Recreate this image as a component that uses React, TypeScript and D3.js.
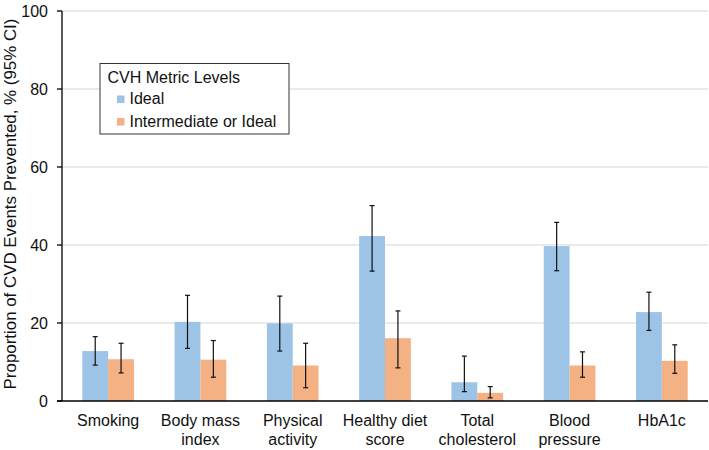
import React from 'react';
import * as d3 from 'd3';

const categories = [
  ['Smoking'],
  ['Body mass', 'index'],
  ['Physical', 'activity'],
  ['Healthy diet', 'score'],
  ['Total', 'cholesterol'],
  ['Blood', 'pressure'],
  ['HbA1c'],
];
const seriesNames = ['Ideal', 'Intermediate or Ideal'];
const idealVal = [12.8, 20.3, 19.9, 42.3, 4.8, 39.7, 22.8];
const idealLo = [9.2, 13.5, 12.8, 33.3, 2.4, 33.4, 18.1];
const idealHi = [16.5, 27.1, 26.9, 50.1, 11.5, 45.8, 27.9];
const interVal = [10.7, 10.6, 9.1, 16.1, 2.1, 9.1, 10.3];
const interLo = [7.2, 6.1, 3.4, 8.5, 0.8, 6.1, 7.1];
const interHi = [14.8, 15.5, 14.8, 23.1, 3.7, 12.6, 14.4];
const yTicks = [0, 20, 40, 60, 80, 100];

const colors = ['#9dc3e6', '#f4b183'];
const font = 'Arial, "Liberation Sans", sans-serif';

const W = 709;
const H = 450;
const margin = { top: 11, right: 1, bottom: 49, left: 62 };

export default function App() {
  const x = d3
    .scaleBand<number>()
    .domain(categories.map((_, i) => i))
    .range([margin.left, W - margin.right])
    .paddingInner(0.44)
    .paddingOuter(0.22);
  const y = d3.scaleLinear().domain([0, 100]).range([H - margin.bottom, margin.top]);
  const sub = d3.scaleBand<number>().domain([0, 1]).range([0, x.bandwidth()]);

  const series = [
    { vals: idealVal, lo: idealLo, hi: idealHi },
    { vals: interVal, lo: interLo, hi: interHi },
  ];

  return (
    <div style={{ position: 'absolute', left: 0, top: 0 }}>
      <svg width={W} height={H} style={{ display: 'block', fontFamily: font }}>
        <rect width={W} height={H} fill="#fff" />
        {yTicks.slice(1).map((t) => (
          <line key={t} x1={margin.left} x2={W - margin.right} y1={y(t)} y2={y(t)} stroke="#e3e3e3" strokeWidth={1.3} />
        ))}
        {series.map((s, si) =>
          s.vals.map((v, i) => {
            const bx = (x(i) ?? 0) + (sub(si) ?? 0);
            const cx = bx + sub.bandwidth() / 2;
            return (
              <g key={`${si}-${i}`}>
                <rect x={bx} y={y(v)} width={sub.bandwidth()} height={y(0) - y(v)} fill={colors[si]} />
                <line x1={cx} x2={cx} y1={y(s.lo[i])} y2={y(s.hi[i])} stroke="#111" strokeWidth={1.2} />
                <line x1={cx - 2.5} x2={cx + 2.5} y1={y(s.lo[i])} y2={y(s.lo[i])} stroke="#111" strokeWidth={1.2} />
                <line x1={cx - 2.5} x2={cx + 2.5} y1={y(s.hi[i])} y2={y(s.hi[i])} stroke="#111" strokeWidth={1.2} />
              </g>
            );
          })
        )}
        {/* axes */}
        <line x1={margin.left} x2={margin.left} y1={y(100)} y2={y(0)} stroke="#000" strokeWidth={1.3} />
        <line x1={margin.left - 5} x2={W - margin.right} y1={y(0)} y2={y(0)} stroke="#000" strokeWidth={1.3} />
        {yTicks.map((t) => (
          <g key={t}>
            <line x1={margin.left - 5} x2={margin.left} y1={y(t)} y2={y(t)} stroke="#000" strokeWidth={1.3} />
            <text x={48} y={y(t)} dy="0.35em" textAnchor="end" fontSize={16} fill="#111">
              {t}
            </text>
          </g>
        ))}
        {categories.map((lines, i) => (
          <text key={i} x={(x(i) ?? 0) + x.bandwidth() / 2} textAnchor="middle" fontSize={16} fill="#111">
            {lines.map((l, li) => (
              <tspan key={li} x={(x(i) ?? 0) + x.bandwidth() / 2} y={426 + li * 19}>
                {l}
              </tspan>
            ))}
          </text>
        ))}
        <text
          transform={`translate(16,${(y(0) + y(100)) / 2 - 2}) rotate(-90)`}
          textAnchor="middle"
          fontSize={16.9}
          fill="#111"
        >
          Proportion of CVD Events Prevented, % (95% CI)
        </text>
        {/* legend */}
        <g>
          <rect x={100} y={63.5} width={189} height={70.5} fill="#fff" stroke="#333" strokeWidth={1} />
          <text x={107.5} y={83} fontSize={16} fill="#111">
            CVH Metric Levels
          </text>
          {seriesNames.map((n, i) => (
            <g key={n}>
              <rect x={117} y={95.5 + i * 22.5} width={7.5} height={7.5} fill={colors[i]} />
              <text x={129.5} y={104 + i * 22.5} fontSize={16} fill="#111">
                {n}
              </text>
            </g>
          ))}
        </g>
      </svg>
    </div>
  );
}
